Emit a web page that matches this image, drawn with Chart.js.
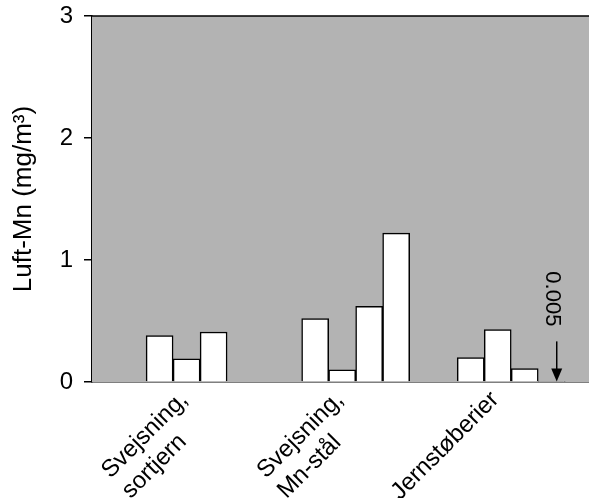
<!DOCTYPE html>
<html>
<head>
<meta charset="utf-8">
<script src="https://cdn.jsdelivr.net/npm/chart.js@4/dist/chart.umd.min.js"></script>
<style>
  html, body { margin: 0; padding: 0; background: #fff; }
  #wrap { width: 589px; height: 498px; }
</style>
</head>
<body>
<div id="wrap"><canvas id="c" width="589" height="498"></canvas></div>
<script>
// Airborne manganese by workplace type (mg/m3)
const categories = [['Svejsning,', 'sortjern'], ['Svejsning,', 'Mn-stål'], ['Jernstøberier']];
const seriesA = [0.38, 0.52, 0.20];
const seriesB = [0.19, 0.10, 0.43];
const seriesC = [0.41, 0.62, 0.11];
const seriesD = [null, 1.22, 0.005];
const yTicks = [0, 1, 2, 3];
const yTitle = 'Luft-Mn (mg/m³)';
const noteText = '0.005';

const FONT = "'Liberation Sans', Arial, sans-serif";

function barSet(values) {
  return {
    data: values,
    backgroundColor: '#ffffff',
    borderColor: '#000000',
    borderWidth: 1.5,
    borderSkipped: 'start',
    barThickness: 27
  };
}

// Grey plot panel, its top edge, slanted category names and the arrow
// marking the near-zero value
const panel = {
  id: 'panel',
  beforeDatasetsDraw(chart) {
    const { ctx, chartArea: a } = chart;
    ctx.save();
    ctx.fillStyle = '#b3b3b3';
    ctx.fillRect(a.left, a.top, a.right - a.left, a.bottom - a.top);
    ctx.restore();
  },
  afterDraw(chart) {
    const { ctx, chartArea: a } = chart;
    ctx.save();
    ctx.strokeStyle = '#000';
    ctx.fillStyle = '#000';
    ctx.lineWidth = 1.5;
    ctx.beginPath();
    ctx.moveTo(a.left, a.top);
    ctx.lineTo(a.right, a.top);
    ctx.stroke();

    // category names, lines start-aligned, rising at 45 degrees
    const xs = chart.scales.x;
    ctx.font = '24px ' + FONT;
    ctx.textBaseline = 'middle';
    ctx.textAlign = 'left';
    categories.forEach((lines, i) => {
      const w = Math.max(...lines.map(t => ctx.measureText(t).width));
      ctx.save();
      ctx.translate(xs.getPixelForValue(i) - 16, xs.top + 14);
      ctx.rotate(-Math.PI / 4);
      lines.forEach((t, k) => ctx.fillText(t, -w, k * 28.8));
      ctx.restore();
    });

    // arrow and value for the bar too small to see
    const bar = chart.getDatasetMeta(3).data[2];
    const x = bar.x + 5;
    const tip = chart.scales.y.getPixelForValue(seriesD[2]);
    const start = tip - 40;
    ctx.beginPath();
    ctx.moveTo(x, start);
    ctx.lineTo(x, tip - 10);
    ctx.stroke();
    ctx.beginPath();
    ctx.moveTo(x - 5.5, tip - 13);
    ctx.lineTo(x + 5.5, tip - 13);
    ctx.lineTo(x, tip);
    ctx.closePath();
    ctx.fill();

    ctx.font = '22px ' + FONT;
    ctx.textAlign = 'right';
    ctx.textBaseline = 'middle';
    ctx.translate(x - 5, start - 15);
    ctx.rotate(Math.PI / 2);
    ctx.fillText(noteText, 0, 0);
    ctx.restore();
  }
};

new Chart(document.getElementById('c'), {
  type: 'bar',
  data: {
    labels: categories.map((_, i) => i),
    datasets: [barSet(seriesA), barSet(seriesB), barSet(seriesC), barSet(seriesD)]
  },
  options: {
    responsive: false,
    animation: false,
    devicePixelRatio: 1,
    layout: { padding: { top: 16, right: 0, bottom: 0, left: 0 } },
    plugins: { legend: { display: false }, tooltip: { enabled: false } },
    scales: {
      x: {
        type: 'linear',
        offset: false,
        min: -0.695,
        max: 2.5,
        grid: { display: false, drawTicks: false },
        border: { display: true, color: '#000', width: 1.5 },
        ticks: { display: false },
        afterFit: (scale) => {
          scale.height = 116;
          scale.paddingLeft = 0;
          scale.paddingRight = 0;
        }
      },
      y: {
        min: 0,
        max: 3,
        afterBuildTicks: (scale) => { scale.ticks = yTicks.map(v => ({ value: v })); },
        afterFit: (scale) => {
          scale.width = 92;
          scale.paddingTop = 0;
          scale.paddingBottom = 0;
        },
        grid: { drawOnChartArea: false, drawTicks: true, tickLength: 8, color: '#000', lineWidth: 1.5 },
        border: { display: true, color: '#000', width: 1.5 },
        ticks: {
          padding: 11,
          color: '#000',
          font: { family: FONT, size: 24 }
        },
        title: {
          display: true,
          text: yTitle,
          color: '#000',
          font: { family: FONT, size: 26 },
          padding: { top: 8, bottom: 0 }
        }
      }
    }
  },
  plugins: [panel]
});
</script>
</body>
</html>
